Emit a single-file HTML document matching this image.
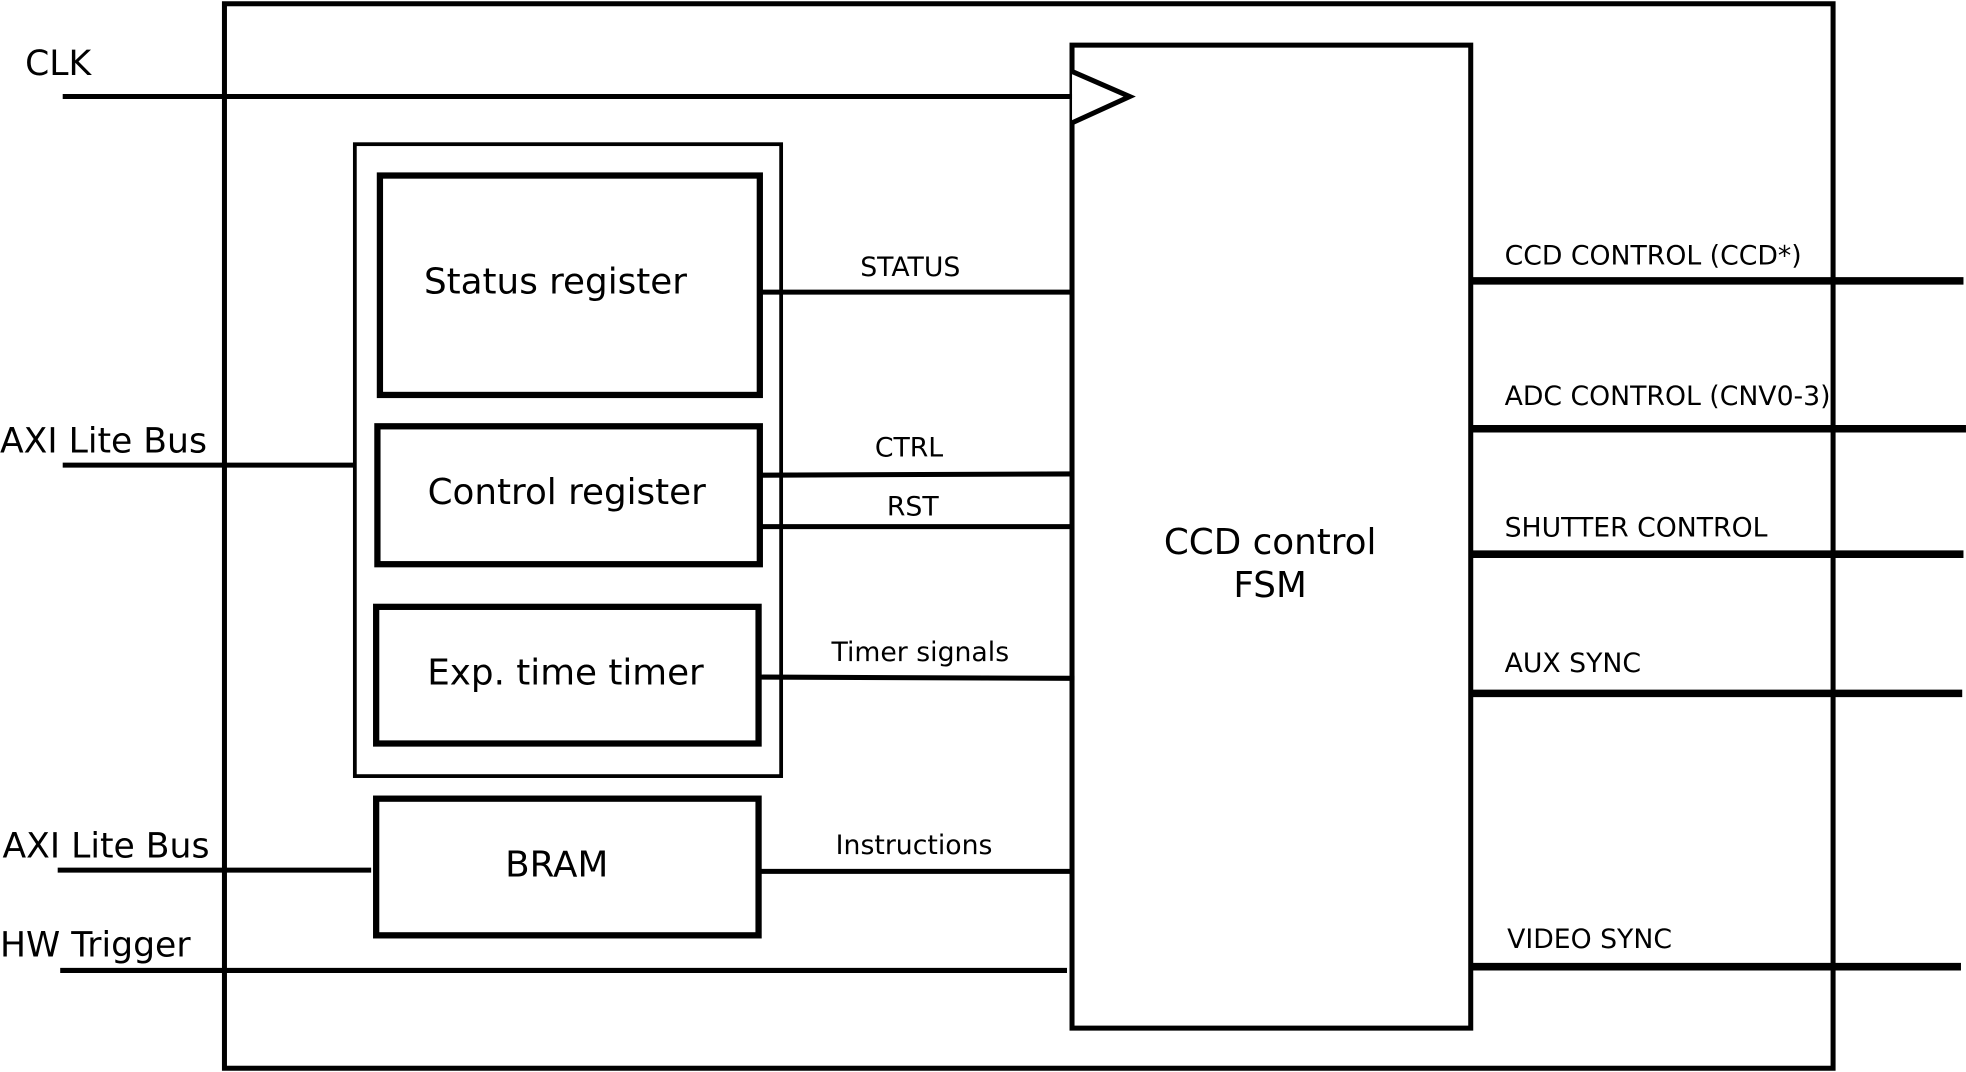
<!DOCTYPE html>
<html><head><meta charset="utf-8"><style>html,body{margin:0;padding:0;background:#fff}svg{display:block}text{font-family:"DejaVu Sans","Liberation Sans",sans-serif;fill:#000}</style></head>
<body>
<svg width="1966" height="1072" viewBox="0 0 1568 855" xmlns="http://www.w3.org/2000/svg">
<g fill="none" stroke="#000">
<rect x="179" y="3" width="1283" height="849" stroke-width="4"/>
<rect x="855" y="36" width="318" height="784" stroke-width="4"/>
<rect x="283" y="115" width="340" height="504" stroke-width="3"/>
<rect x="303" y="140" width="303" height="175" stroke-width="5"/>
<rect x="301" y="340" width="305" height="110" stroke-width="5"/>
<rect x="300" y="484" width="305" height="109" stroke-width="5"/>
<rect x="300" y="637" width="305" height="109" stroke-width="5"/>
<polyline points="855,57 901,77 855,98" stroke-width="4" fill="#fff"/>
<g stroke-width="4">
<line x1="50" y1="77" x2="855" y2="77"/>
<line x1="50" y1="371" x2="283" y2="371"/>
<line x1="46" y1="694" x2="296" y2="694"/>
<line x1="48" y1="774" x2="851" y2="774"/>
<line x1="606" y1="233" x2="855" y2="233"/>
<line x1="606" y1="379" x2="855" y2="378"/>
<line x1="606" y1="420" x2="855" y2="420"/>
<line x1="605" y1="540" x2="857" y2="541"/>
<line x1="605" y1="695" x2="855" y2="695"/>
</g>
<g stroke-width="6">
<line x1="1173" y1="224" x2="1566" y2="224"/>
<line x1="1173" y1="342" x2="1568" y2="342"/>
<line x1="1173" y1="442" x2="1566" y2="442"/>
<line x1="1173" y1="553" x2="1565" y2="553"/>
<line x1="1173" y1="771" x2="1564" y2="771"/>
</g>
</g>
<g font-size="27.6">
<text x="20" y="60">CLK</text>
<text x="0" y="361">AXI Lite Bus</text>
<text x="2" y="684">AXI Lite Bus</text>
<text x="0" y="763">HW Trigger</text>
</g>
<g font-size="28.5" text-anchor="middle">
<text x="443" y="234">Status register</text>
<text x="452" y="402">Control register</text>
<text x="451" y="546">Exp. time timer</text>
<text x="444" y="699">BRAM</text>
<text x="1013" y="442">CCD control</text>
<text x="1013" y="476">FSM</text>
</g>
<g font-size="21.3" text-anchor="middle">
<text x="726" y="220">STATUS</text>
<text x="725" y="364">CTRL</text>
<text x="728" y="411">RST</text>
<text x="734" y="527">Timer signals</text>
<text x="729" y="681">Instructions</text>
</g>
<g font-size="21.3">
<text x="1200" y="211">CCD CONTROL (CCD*)</text>
<text x="1200" y="323">ADC CONTROL (CNV0-3)</text>
<text x="1200" y="428">SHUTTER CONTROL</text>
<text x="1200" y="536">AUX SYNC</text>
<text x="1202" y="756">VIDEO SYNC</text>
</g>
</svg>
</body></html>
